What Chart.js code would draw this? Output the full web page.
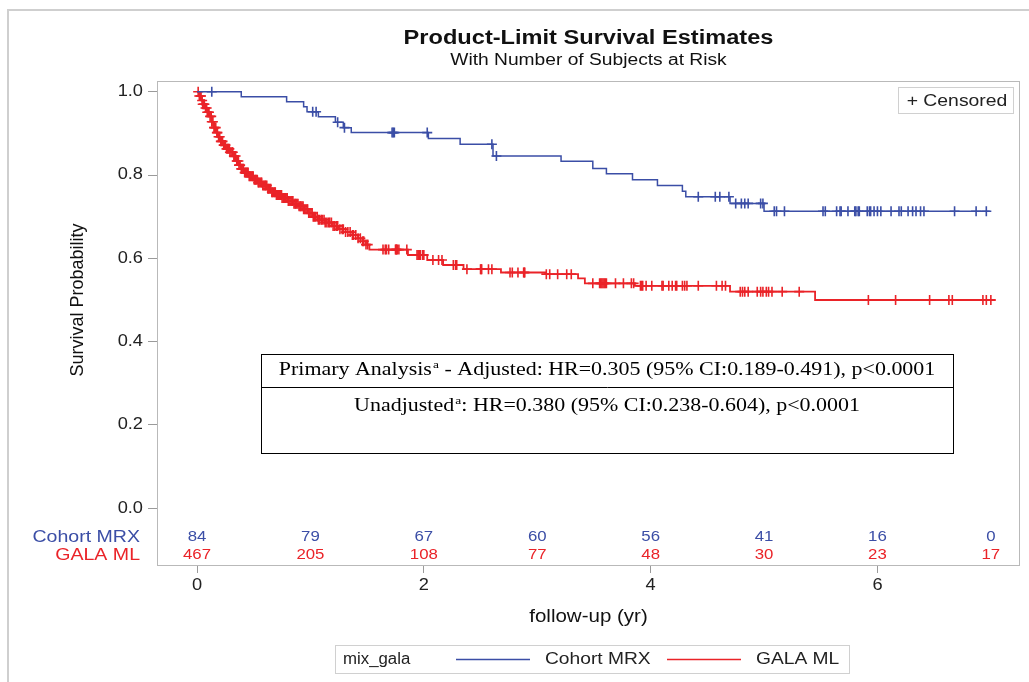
<!DOCTYPE html>
<html>
<head>
<meta charset="utf-8">
<script src="https://cdn.jsdelivr.net/npm/chart.js@4/dist/chart.umd.min.js"></script>
<style>
  html, body { margin: 0; padding: 0; background: #ffffff; }
  #wrap { position: relative; width: 1029px; height: 682px; }
</style>
</head>
<body>
<div id="wrap"><canvas id="km" width="1029" height="682"></canvas></div>
<script>
// Kaplan-Meier step points (time in years, survival after the step)
const groups = ['Cohort MRX', 'GALA ML'];
const mrxTime = [0, 0.39, 0.79, 0.94, 0.97, 1.07, 1.22, 1.29, 1.36, 2.04, 2.32, 2.61, 3.21, 3.49, 3.61, 3.84, 4.06, 4.28, 4.31, 4.70, 5.00, 6.99];
const mrxSurv = [1.000, 0.988, 0.976, 0.964, 0.952, 0.940, 0.927, 0.914, 0.902, 0.888, 0.874, 0.846, 0.833, 0.816, 0.803, 0.789, 0.775, 0.761, 0.748, 0.732, 0.713, 0.713];
const mrxCensor = [0.13, 1.02, 1.05, 1.24, 1.30, 1.72, 1.73, 1.74, 2.03, 2.60, 2.64, 4.42, 4.57, 4.61, 4.69, 4.75, 4.80, 4.83, 4.86, 4.97, 4.99,
  5.09, 5.11, 5.18, 5.52, 5.54, 5.64, 5.67, 5.68, 5.74, 5.80, 5.81, 5.83, 5.84, 5.91, 5.93, 5.94, 5.97, 6.00, 6.03, 6.12,
  6.19, 6.21, 6.27, 6.31, 6.34, 6.38, 6.41, 6.68, 6.87, 6.96];

const galaTime = [0, 0.02, 0.04, 0.05, 0.07, 0.09, 0.11, 0.13, 0.15, 0.17, 0.19, 0.21, 0.23, 0.26, 0.29, 0.32, 0.35, 0.37, 0.39, 0.42,
  0.46, 0.50, 0.54, 0.58, 0.62, 0.66, 0.70, 0.75, 0.80, 0.85, 0.90, 0.94, 0.98, 1.02, 1.07, 1.13, 1.19, 1.25, 1.31, 1.37,
  1.42, 1.46, 1.49, 1.52, 1.86, 2.03, 2.17, 2.35, 2.68, 3.07, 3.36, 3.42, 3.86, 4.70, 5.45, 7.04];
const galaSurv = [1.000, 0.990, 0.979, 0.970, 0.961, 0.951, 0.941, 0.928, 0.914, 0.902, 0.892, 0.881, 0.872, 0.863, 0.855, 0.846, 0.834, 0.824, 0.815, 0.806,
  0.797, 0.789, 0.782, 0.775, 0.767, 0.759, 0.752, 0.745, 0.738, 0.731, 0.725, 0.718, 0.709, 0.700, 0.693, 0.686, 0.678, 0.670, 0.663, 0.656,
  0.648, 0.641, 0.633, 0.621, 0.608, 0.596, 0.584, 0.574, 0.566, 0.562, 0.552, 0.540, 0.534, 0.520, 0.500, 0.500];
const galaCensor = [0.01, 0.02, 0.03, 0.035, 0.045, 0.05, 0.06, 0.065, 0.075, 0.085, 0.09, 0.10, 0.105, 0.115, 0.125, 0.13, 0.14, 0.15, 0.155, 0.165,
  0.175, 0.18, 0.19, 0.20, 0.21, 0.215, 0.225, 0.235, 0.24, 0.25, 0.26, 0.27, 0.275, 0.285, 0.29, 0.30, 0.31, 0.315, 0.325, 0.33,
  0.34, 0.35, 0.355, 0.365, 0.37, 0.38, 0.39, 0.395, 0.405, 0.41, 0.42, 0.43, 0.435, 0.445, 0.45, 0.46, 0.47, 0.48, 0.49, 0.495,
  0.505, 0.515, 0.52, 0.53, 0.54, 0.545, 0.555, 0.565, 0.57, 0.58, 0.59, 0.60, 0.605, 0.615, 0.625, 0.63, 0.64, 0.65, 0.66, 0.665,
  0.675, 0.685, 0.69, 0.70, 0.71, 0.72, 0.725, 0.735, 0.745, 0.75, 0.76, 0.77, 0.78, 0.785, 0.795, 0.805, 0.81, 0.82, 0.83, 0.84,
  0.845, 0.855, 0.865, 0.87, 0.88, 0.89, 0.90, 0.91, 0.915, 0.925, 0.935, 0.94, 0.95, 0.96, 0.97, 0.975, 0.985, 0.995,
  1.005, 1.015, 1.025, 1.035, 1.045, 1.06, 1.07, 1.08, 1.095, 1.105, 1.12, 1.13, 1.145, 1.16, 1.17, 1.185, 1.20, 1.215, 1.23, 1.24,
  1.26, 1.28, 1.29, 1.31, 1.33, 1.35, 1.37, 1.38, 1.40, 1.42, 1.44, 1.46, 1.47, 1.49, 1.505,
  1.64, 1.66, 1.67, 1.69, 1.75, 1.755, 1.76, 1.765, 1.78, 1.85, 1.94, 1.95, 1.96, 1.97, 1.99, 2.00, 2.08, 2.13, 2.16, 2.26, 2.28, 2.29,
  2.38, 2.50, 2.505, 2.51, 2.57, 2.60, 2.76, 2.78, 2.83, 2.88, 2.885, 2.89, 3.08, 3.11, 3.18, 3.26, 3.30,
  3.49, 3.55, 3.56, 3.57, 3.58, 3.59, 3.60, 3.61, 3.69, 3.76, 3.83, 3.85,
  3.91, 3.92, 3.93, 3.96, 4.01, 4.10, 4.11, 4.16, 4.19, 4.22, 4.23, 4.28, 4.30, 4.32, 4.42, 4.58, 4.63, 4.66,
  4.79, 4.81, 4.83, 4.86, 4.94, 4.97, 4.99, 5.02, 5.04, 5.07, 5.16, 5.31,
  5.92, 6.16, 6.46, 6.63, 6.66, 6.93, 6.96, 7.00];

// Number of subjects at risk
const riskTimes = [0, 1, 2, 3, 4, 5, 6, 7];
const mrxAtRisk = [84, 79, 67, 60, 56, 41, 16, 0];
const galaAtRisk = [467, 205, 108, 77, 48, 30, 23, 17];

// Axis tick values
const xTickValues = [0, 2, 4, 6];
const yTickValues = [0, 0.2, 0.4, 0.6, 0.8, 1.0];

const BLUE = '#3b4ea6';
const RED = '#ea2328';
const SANS = '"Liberation Sans", Arial, sans-serif';
const SERIF = '"Liberation Serif", "Times New Roman", serif';
const WIDE = 1.14; // horizontal text widening used throughout the graph

function survivalAt(times, surv, t) {
  let s = surv[0];
  for (let i = 0; i < times.length; i++) { if (times[i] <= t) s = surv[i]; }
  return s;
}
const toPoints = (times, surv) => times.map((t, i) => ({ x: t, y: surv[i] }));
const censorPoints = (cens, times, surv) => cens.map(t => ({ x: t, y: survivalAt(times, surv, t) }));

function text(ctx, str, x, y, font, color, align, baseline, sx) {
  ctx.save();
  ctx.font = font;
  ctx.fillStyle = color;
  ctx.textAlign = align || 'left';
  ctx.textBaseline = baseline || 'middle';
  ctx.translate(x, y);
  ctx.scale(sx || 1, 1);
  ctx.fillText(str, 0, 0);
  ctx.restore();
}

function drawSup(ctx, parts, cx, y, sx) {
  const main = '18px ' + SERIF, sup = '11px ' + SERIF;
  ctx.save();
  let total = 0;
  parts.forEach(([s, isSup]) => { ctx.font = isSup ? sup : main; total += ctx.measureText(s).width + (isSup ? 1 : 0); });
  ctx.translate(cx, y);
  ctx.scale(sx, 1);
  let x = -total / 2;
  parts.forEach(([s, isSup]) => {
    ctx.font = isSup ? sup : main;
    ctx.fillStyle = '#000';
    ctx.textAlign = 'left';
    ctx.textBaseline = 'alphabetic';
    ctx.fillText(s, x + (isSup ? 1 : 0), isSup ? -1 : 6);
    x += ctx.measureText(s).width + (isSup ? 1 : 0);
  });
  ctx.restore();
}

const decorations = {
  id: 'decorations',
  beforeDraw(chart) {
    const ctx = chart.ctx;
    ctx.save();
    ctx.fillStyle = '#ffffff';
    ctx.fillRect(0, 0, chart.width, chart.height);
    // outer graph frame
    ctx.strokeStyle = '#cfcfcf';
    ctx.lineWidth = 2;
    ctx.strokeRect(8, 10, chart.width + 20, chart.height + 20);
    ctx.restore();
  },
  afterDraw(chart) {
    const ctx = chart.ctx;
    const a = chart.chartArea;
    const xs = chart.scales.x, ys = chart.scales.y;
    const cx = (a.left + a.right) / 2;

    // plot frame
    ctx.save();
    ctx.strokeStyle = '#b9b9b9';
    ctx.lineWidth = 1;
    ctx.strokeRect(a.left + 0.5, a.top + 0.5, a.right - a.left - 1, a.bottom - a.top - 1);
    ctx.restore();

    // tick labels
    xs.ticks.forEach(t => text(ctx, String(t.value), xs.getPixelForValue(t.value), a.bottom + 20, '16px ' + SANS, '#222', 'center', 'middle', WIDE));
    ys.ticks.forEach(t => text(ctx, Number(t.value).toFixed(1), 143, ys.getPixelForValue(t.value), '16px ' + SANS, '#222', 'right', 'middle', WIDE));

    // titles
    text(ctx, 'Product-Limit Survival Estimates', cx, 38, 'bold 20px ' + SANS, '#111', 'center', 'middle', 1.18);
    text(ctx, 'With Number of Subjects at Risk', cx, 61, '16px ' + SANS, '#111', 'center', 'middle', 1.2);
    text(ctx, 'follow-up (yr)', cx, 617, '18px ' + SANS, '#111', 'center', 'middle', WIDE);
    ctx.save();
    ctx.translate(78, (ys.getPixelForValue(0) + ys.getPixelForValue(1)) / 2);
    ctx.rotate(-Math.PI / 2);
    text(ctx, 'Survival Probability', 0, 0, '18px ' + SANS, '#111', 'center');
    ctx.restore();

    // number at risk table inside the plot
    const rowY = [ys.getPixelForValue(-0.070), ys.getPixelForValue(-0.113)];
    const rows = [mrxAtRisk, galaAtRisk];
    const cols = [BLUE, RED];
    rows.forEach((vals, r) => {
      text(ctx, groups[r], 140, rowY[r], '17px ' + SANS, cols[r], 'right', 'middle', 1.15);
      vals.forEach((v, i) => {
        text(ctx, String(v), xs.getPixelForValue(riskTimes[i]), rowY[r], '14px ' + SANS, cols[r], 'center', 'middle', 1.2);
      });
    });

    // censored-marker key
    ctx.save();
    ctx.strokeStyle = '#d0d0d0';
    ctx.lineWidth = 1;
    ctx.strokeRect(898.5, 87.5, 115, 26);
    ctx.restore();
    text(ctx, '+ Censored', 957, 101, '17px ' + SANS, '#222', 'center', 'middle', WIDE);

    // hazard ratio box
    const bx0 = xs.getPixelForValue(0.564), bx1 = xs.getPixelForValue(6.667);
    const by0 = ys.getPixelForValue(0.370), byMid = ys.getPixelForValue(0.290), by1 = ys.getPixelForValue(0.133);
    ctx.save();
    ctx.strokeStyle = '#000';
    ctx.lineWidth = 1;
    ctx.strokeRect(Math.round(bx0) + 0.5, Math.round(by0) + 0.5, Math.round(bx1 - bx0), Math.round(by1 - by0));
    ctx.beginPath();
    ctx.moveTo(Math.round(bx0), Math.round(byMid) + 0.5);
    ctx.lineTo(Math.round(bx1) + 1, Math.round(byMid) + 0.5);
    ctx.stroke();
    ctx.restore();
    const boxCx = (bx0 + bx1) / 2;
    drawSup(ctx, [['Primary Analysis', false], ['a', true], [' - Adjusted: HR=0.305 (95% CI:0.189-0.491), p<0.0001', false]], boxCx, by0 + 15, 1.22);
    drawSup(ctx, [['Unadjusted', false], ['a', true], [': HR=0.380 (95% CI:0.238-0.604), p<0.0001', false]], boxCx, byMid + 18, 1.22);

    // group legend
    const lx = 335, ly = 645, lw = 514, lh = 28;
    ctx.save();
    ctx.strokeStyle = '#d0d0d0';
    ctx.lineWidth = 1;
    ctx.strokeRect(lx + 0.5, ly + 0.5, lw, lh);
    ctx.restore();
    const midY = ly + lh / 2 + 0.5;
    text(ctx, 'mix_gala', 343, midY, '16px ' + SANS, '#222', 'left', 'middle', 1.05);
    const items = [[groups[0], BLUE, 456], [groups[1], RED, 667]];
    items.forEach(([label, color, x0]) => {
      ctx.save();
      ctx.strokeStyle = color;
      ctx.lineWidth = 1.5;
      ctx.beginPath();
      ctx.moveTo(x0, midY);
      ctx.lineTo(x0 + 74, midY);
      ctx.stroke();
      ctx.restore();
      text(ctx, label, x0 + 89, midY, '16px ' + SANS, '#222', 'left', 'middle', 1.2);
    });
  }
};

const crossStyle = (color) => ({
  showLine: false, pointStyle: 'cross', pointRadius: 5, pointBorderWidth: 1.6,
  pointBorderColor: color, pointBackgroundColor: color, pointHoverRadius: 5
});

new Chart(document.getElementById('km'), {
  type: 'scatter',
  data: {
    datasets: [
      { label: groups[0], data: toPoints(mrxTime, mrxSurv), showLine: true, stepped: true, borderColor: BLUE, borderWidth: 1.5, pointRadius: 0 },
      Object.assign({ label: groups[0] + ' censored', data: censorPoints(mrxCensor, mrxTime, mrxSurv) }, crossStyle(BLUE)),
      { label: groups[1], data: toPoints(galaTime, galaSurv), showLine: true, stepped: true, borderColor: RED, borderWidth: 1.8, pointRadius: 0 },
      Object.assign({ label: groups[1] + ' censored', data: censorPoints(galaCensor, galaTime, galaSurv) }, crossStyle(RED))
    ]
  },
  options: {
    responsive: false,
    animation: false,
    devicePixelRatio: 1,
    events: [],
    layout: { padding: { left: 0, right: 9, top: 81, bottom: 0 } },
    plugins: { legend: { display: false }, tooltip: { enabled: false }, title: { display: false } },
    scales: {
      x: {
        type: 'linear', min: -0.353, max: 7.257,
        afterFit: s => { s.height = 116; },
        afterBuildTicks: s => { s.ticks = xTickValues.map(v => ({ value: v })); },
        grid: { drawOnChartArea: false, drawTicks: true, tickLength: 7, color: '#9a9a9a' },
        border: { display: false },
        ticks: { display: false }
      },
      y: {
        type: 'linear', min: -0.139, max: 1.026,
        afterFit: s => { s.width = 157; },
        afterBuildTicks: s => { s.ticks = yTickValues.map(v => ({ value: v })); },
        grid: { drawOnChartArea: false, drawTicks: true, tickLength: 9, color: '#9a9a9a' },
        border: { display: false },
        ticks: { display: false }
      }
    }
  },
  plugins: [decorations]
});
</script>
</body>
</html>
